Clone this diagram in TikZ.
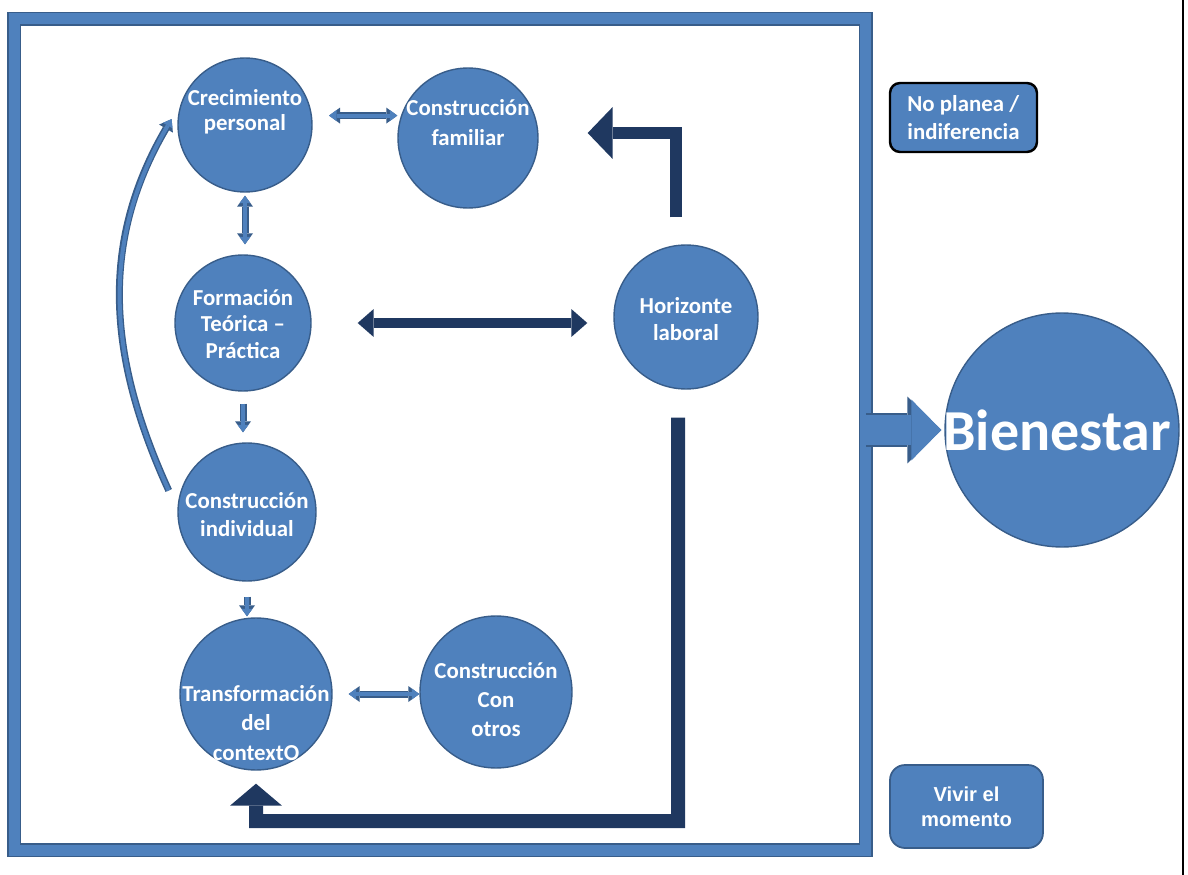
\documentclass[tikz,border=0pt]{standalone}
\usepackage{fontspec}
\setmainfont{Carlito}
\newfontfamily\arialfont{Liberation Sans}
\usetikzlibrary{arrows.meta}

\definecolor{cblue}{RGB}{79,129,189}
\definecolor{cedge}{RGB}{56,93,138}
\definecolor{navyb}{RGB}{31,56,96}

\tikzset{
    bubble/.style={circle, fill=cblue, draw=cedge, line width=0.8pt, inner sep=0pt},
    bubbletext/.style={text=white, font=\bfseries\fontsize{13}{#1}\selectfont, align=center, inner sep=0pt},
    bubbletext/.default=15,
    tagbox/.style={rectangle, rounded corners=0.2cm, fill=cblue, text=white, inner sep=0pt,
        font=\bfseries\fontsize{13}{16}\selectfont},
    outerbox/.style={draw=cblue, line width=0.22cm, minimum width=17.04cm, minimum height=16.63cm,
        inner sep=0pt, outer sep=0pt, preaction={draw=cedge, line width=0.28cm}},
    hollow/.style={draw=cblue, line width=0.08cm, >={Triangle[width=0.22cm, length=0.15cm, line width=0pt]}, #1,
        preaction={draw=cedge, line width=0.14cm, >={Triangle[width=0.32cm, length=0.22cm, line width=0pt]}, #1}},
    navyarrow/.style={draw=navyb, line width=#1, line join=miter},
    blockarrow/.style={draw=cblue, line width=0.6cm, -{Triangle[width=1.22cm, length=0.6cm, line width=0pt]},
        preaction={draw=cedge, line width=0.68cm, -{Triangle[width=1.34cm, length=0.68cm, line width=0pt]}}}
}

\begin{document}
\begin{tikzpicture}[x=0.02cm, y=-0.02cm]
    \useasboundingbox (0, 0) rectangle (1188, 875);
    \node[outerbox] (box) at (440, 434.5) {};

    % circles
    \node[bubble, minimum size=2.68cm] (crec) at (245, 125) {};
    \node[bubble, minimum size=2.8cm] (fam) at (468, 138) {};
    \node[bubble, minimum size=2.72cm] (form) at (243, 323) {};
    \node[bubble, minimum size=2.88cm] (hor) at (686, 317) {};
    \node[bubble, minimum size=2.76cm] (ind) at (247, 512) {};
    \node[bubble, minimum size=3.04cm] (trans) at (256, 694) {};
    \node[bubble, minimum size=3.04cm] (otros) at (496, 692) {};
    \node[bubble, minimum size=4.68cm] (bien) at (1062, 430) {};

    \node[bubbletext=14] (crec-t) at (245, 112) {Crecimiento\\personal};
    \node[bubbletext=17] (fam-t) at (468, 123) {Construcción\\familiar};
    \node[bubbletext] (form-t) at (243, 324) {Formación\\Teórica –\\Práctica};
    \node[bubbletext] (hor-t) at (686, 319) {Horizonte\\laboral};
    \node[bubbletext=16] (ind-t) at (247, 515) {Construcción\\individual};
    \node[bubbletext=17] (trans-t) at (256, 723) {Transformación\\del\\contextO};
    \node[bubbletext=16.5] (otros-t) at (496, 700) {Construcción\\Con\\otros};
    \node[text=white, font=\bfseries\fontsize{33}{36}\selectfont, inner sep=0pt] (bien-t) at (1057, 430) {Bienestar};

    % side boxes
    \node[tagbox, draw=black, line width=1.4pt, minimum width=2.94cm, minimum height=1.38cm, align=left]
        (noplan) at (963.5, 117.5) {No planea /\\indiferencia};
    \node[tagbox, draw=cedge, line width=1pt, rounded corners=0.3cm, minimum width=3.06cm, minimum height=1.66cm,
        align=center, font=\arialfont\bfseries\fontsize{11.5}{14}\selectfont]
        (vivir) at (966.5, 806.5) {Vivir el\\momento};

    % arrows
    \draw[hollow=<->, shorten <=0.34cm] (crec.8) -- (crec.8 -| fam.west);
    \draw[hollow=<->, shorten <=0.06cm, shorten >=0.2cm] (crec.south) -- (crec.south |- form.north);
    \draw[hollow=->, shorten <=0.24cm, shorten >=0.2cm] (form.south) -- (form.south |- ind.north);
    \draw[hollow=->, shorten <=0.3cm, shorten >=0.02cm] (ind.south) -- (ind.south |- trans.north);
    \draw[hollow=<->, shorten <=0.32cm] (trans.east) -- (trans.east -| otros.west);
    \draw[hollow=->] ([xshift=-0.24cm]ind.162) .. controls (108, 358) and (99, 243) .. ([xshift=-0.12cm]crec.175);

    \draw[navyarrow=0.22cm, {Triangle[width=0.56cm, length=0.32cm, line width=0pt]}-{Triangle[width=0.56cm, length=0.32cm, line width=0pt]},
        shorten <=0.92cm, shorten >=0.52cm] (form.east) -- (form.east -| hor.west);
    \draw[navyarrow=0.24cm, -{Triangle[width=1.04cm, length=0.5cm, line width=0pt]}, shorten >=0.98cm]
        ([shift={(-0.2cm, 0.54cm)}]hor.north) |- ([yshift=0.1cm]fam.east);
    \coordinate (turn) at (678, 821);
    \draw[navyarrow=0.28cm, -{Triangle[width=1.04cm, length=0.44cm, line width=0pt]}, shorten >=0.26cm]
        ([shift={(-0.16cm, -0.56cm)}]hor.south) -- (turn) -| (trans.south);

    \draw[blockarrow, shorten >=0.06cm] (box.east |- bien.west) -- (bien.west);
    \draw[line width=1.2pt] (1183, 0) -- (1183, 875);
\end{tikzpicture}
\end{document}
